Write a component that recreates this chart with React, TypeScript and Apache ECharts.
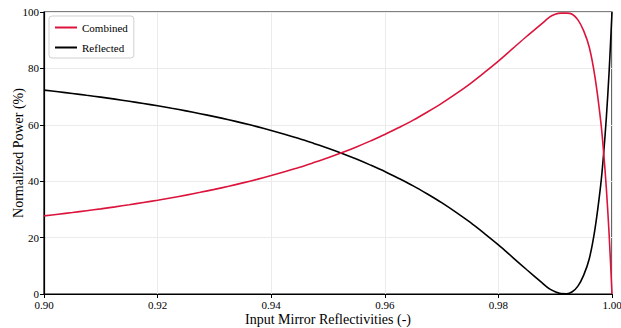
import React, { useEffect, useRef } from "react";
import * as echarts from "echarts";

const reflectivity = [
  0.9, 0.9025, 0.905, 0.9075, 0.91, 0.9125, 0.915, 0.9175, 0.92, 0.9225,
  0.925, 0.9275, 0.93, 0.9325, 0.935, 0.9375, 0.94, 0.9425, 0.945, 0.9475,
  0.95, 0.9525, 0.955, 0.9575, 0.96, 0.9625, 0.965, 0.9675, 0.97, 0.9725,
  0.975, 0.9775, 0.98, 0.9825, 0.985, 0.9875, 0.989, 0.99, 0.991, 0.992,
  0.993, 0.994, 0.995, 0.996, 0.997, 0.998, 0.9985, 0.999, 0.9995, 1.0,
];
const reflected = [
  72.3, 71.7, 71.1, 70.45, 69.8, 69.1, 68.35, 67.55, 66.75, 65.85,
  64.95, 63.95, 62.9, 61.8, 60.6, 59.35, 58.0, 56.55, 55.05, 53.4,
  51.7, 49.85, 47.85, 45.7, 43.45, 40.95, 38.35, 35.45, 32.4, 29.05,
  25.45, 21.5, 17.4, 13.0, 8.6, 4.3, 1.8, 0.8, 0.15, 0.1,
  0.8, 2.8, 6.6, 12.5, 23.0, 38.4, 49.1, 62.4, 79.1, 100.0,
];
const combined = [
  27.7, 28.3, 28.9, 29.55, 30.2, 30.9, 31.65, 32.45, 33.25, 34.15,
  35.05, 36.05, 37.1, 38.2, 39.4, 40.65, 42.0, 43.45, 44.95, 46.6,
  48.3, 50.15, 52.15, 54.3, 56.55, 59.05, 61.65, 64.55, 67.6, 70.95,
  74.55, 78.5, 82.6, 87.0, 91.4, 95.6, 98.2, 99.2, 99.6, 99.6,
  99.2, 97.2, 93.4, 87.5, 77.0, 61.6, 50.9, 37.6, 20.9, 0.0,
];
const xTicks = [0.9, 0.92, 0.94, 0.96, 0.98, 1.0];
const seriesNames = ["Combined", "Reflected"];

const FONT = "Liberation Serif, serif";

export default function App() {
  const ref = useRef<HTMLDivElement>(null);
  useEffect(() => {
    document.body.style.margin = "0";
    if (!ref.current) return;
    const chart = echarts.init(ref.current, null, { renderer: "svg" });
    const pair = (ys: number[]) => reflectivity.map((x, i) => [x, ys[i]]);
    chart.setOption({
      animation: false,
      textStyle: { fontFamily: FONT },
      grid: {
        left: 44,
        right: 9,
        top: 12,
        bottom: 34,
        containLabel: false,
        outerBoundsMode: "none",
        show: true,
        borderColor: "#000",
        borderWidth: 1.2,
      },
      legend: {
        left: 49,
        top: 16,
        orient: "vertical",
        data: seriesNames,
        icon: "rect",
        itemWidth: 22,
        itemHeight: 2,
        itemGap: 9,
        padding: [6, 6, 5, 6],
        backgroundColor: "#fff",
        borderColor: "#d0d0d0",
        borderWidth: 1,
        borderRadius: 3,
        textStyle: { fontFamily: FONT, fontSize: 11, color: "#000" },
      },
      xAxis: {
        type: "value",
        min: 0.9,
        max: 1.0,
        interval: 0.02,
        name: "Input Mirror Reflectivities (-)",
        nameLocation: "middle",
        nameGap: 18,
        nameMoveOverlap: false,
        nameTextStyle: { fontFamily: FONT, fontSize: 14, color: "#000" },
        axisLine: { lineStyle: { color: "#000", width: 1.2 } },
        axisTick: { show: true, length: 4, lineStyle: { color: "#000" } },
        axisLabel: {
          fontFamily: FONT,
          fontSize: 11,
          color: "#000",
          margin: 5,
          formatter: (v: number) => {
            const t = xTicks.find((k) => Math.abs(k - v) < 1e-6);
            return (t !== undefined ? t : v).toFixed(2);
          },
        },
        splitLine: { show: true, lineStyle: { color: "#ebebeb", width: 1 } },
      },
      yAxis: {
        type: "value",
        min: 0,
        max: 100,
        interval: 20,
        name: "Normalized Power (%)",
        nameLocation: "middle",
        nameGap: 19,
        nameMoveOverlap: false,
        nameTextStyle: { fontFamily: FONT, fontSize: 14, color: "#000" },
        axisLine: { show: true, lineStyle: { color: "#000", width: 1.2 } },
        axisTick: { show: true, length: 4, lineStyle: { color: "#000" } },
        axisLabel: { fontFamily: FONT, fontSize: 11, color: "#000", margin: 5 },
        splitLine: { show: true, lineStyle: { color: "#ebebeb", width: 1 } },
      },
      series: [
        {
          name: seriesNames[0],
          type: "line",
          data: pair(combined),
          symbol: "none",
          smooth: 0.3,
          color: "#dc143c",
          lineStyle: { color: "#dc143c", width: 1.6 },
          z: 3,
        },
        {
          name: seriesNames[1],
          type: "line",
          data: pair(reflected),
          symbol: "none",
          smooth: 0.3,
          color: "#000",
          lineStyle: { color: "#000", width: 1.6 },
          z: 2,
        },
      ],
    });
    return () => chart.dispose();
  }, []);
  return <div ref={ref} style={{ width: 621, height: 328 }} />;
}
